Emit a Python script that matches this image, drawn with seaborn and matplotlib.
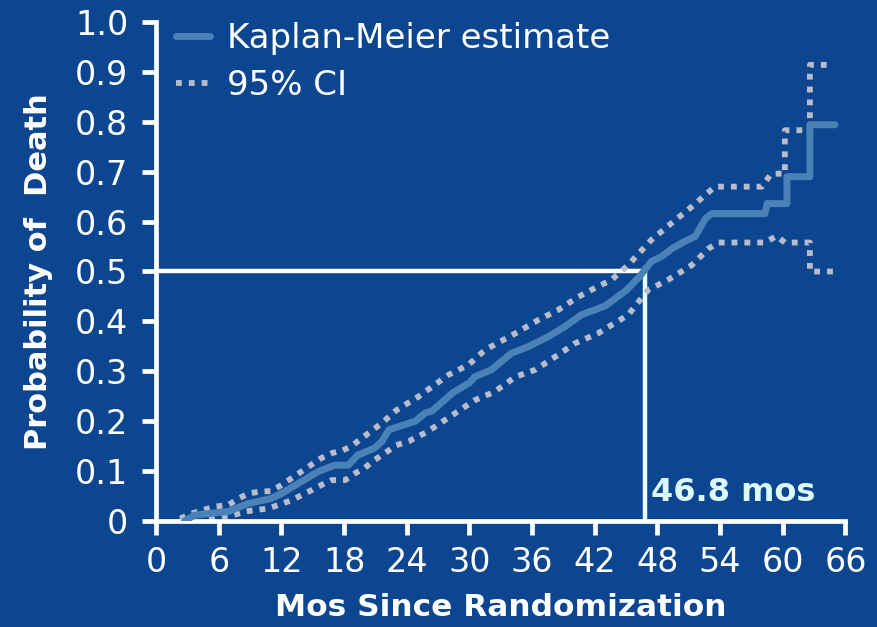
import numpy as np
import pandas as pd
import matplotlib
matplotlib.use("Agg")
import matplotlib.pyplot as plt
import seaborn as sns

# ---- data ----
km_months = [2.7, 3.7, 6.9, 8.8, 11.0, 12.0, 15.5, 17.1, 18.4, 19.3, 20.9, 21.6, 22.3,
             24.8, 25.8, 26.4, 28.4, 30.0, 30.5, 32.1, 34.0, 35.6, 37.5, 39.1, 40.7,
             43.0, 45.0, 46.3, 47.4, 48.4, 49.4, 50.6, 51.6, 52.6, 53.2, 58.3, 58.5,
             60.4, 60.4, 62.6, 62.6, 65.0]
km_prob = [0.0, 0.012, 0.019, 0.035, 0.045, 0.055, 0.099, 0.112, 0.112, 0.132, 0.146, 0.159, 0.183,
           0.200, 0.217, 0.220, 0.257, 0.277, 0.289, 0.303, 0.336, 0.349, 0.369, 0.389, 0.413,
           0.431, 0.462, 0.490, 0.520, 0.530, 0.546, 0.560, 0.570, 0.606, 0.616, 0.616, 0.636,
           0.636, 0.690, 0.690, 0.794, 0.794]

up_months = [2.3, 3.4, 5.6, 6.9, 7.9, 8.8, 9.9, 11.0, 12.0, 13.9, 15.8, 16.8, 17.8, 18.7,
             19.7, 21.6, 23.0, 25.1, 28.0, 29.9, 31.5, 34.4, 36.6, 38.5, 40.4, 42.3, 43.6,
             45.2, 47.4, 49.7, 51.3, 53.5, 58.0, 58.9, 60.2, 60.2, 62.6, 62.6, 64.7]
up_prob = [0.005, 0.015, 0.029, 0.032, 0.045, 0.055, 0.059, 0.060, 0.072, 0.099, 0.126, 0.136, 0.141, 0.150,
           0.166, 0.196, 0.222, 0.249, 0.293, 0.313, 0.343, 0.376, 0.403, 0.423, 0.449, 0.470, 0.483,
           0.513, 0.563, 0.603, 0.630, 0.670, 0.670, 0.696, 0.696, 0.783, 0.783, 0.914, 0.914]

lo_months = [5.1, 6.3, 7.4, 8.5, 9.5, 10.7, 11.7, 13.0, 14.9, 15.8, 16.8, 18.1, 19.0, 20.0,
             20.9, 21.9, 23.0, 24.2, 25.8, 26.7, 30.5, 32.4, 34.4, 36.3, 38.2, 40.1, 42.3,
             45.2, 47.1, 49.0, 51.3, 52.9, 53.8, 58.3, 59.4, 60.2, 62.6, 62.6, 65.0]
lo_prob = [0.002, 0.009, 0.012, 0.019, 0.022, 0.025, 0.032, 0.042, 0.062, 0.072, 0.082, 0.082, 0.095, 0.107,
           0.122, 0.136, 0.152, 0.160, 0.177, 0.189, 0.242, 0.259, 0.289, 0.303, 0.329, 0.356, 0.376,
           0.413, 0.463, 0.483, 0.513, 0.546, 0.558, 0.558, 0.571, 0.558, 0.558, 0.500, 0.500]

median_months = 46.8
median_prob = 0.5
x_ticks = list(range(0, 67, 6))
y_ticks = [0.0, 0.1, 0.2, 0.3, 0.4, 0.5, 0.6, 0.7, 0.8, 0.9, 1.0]
y_tick_labels = ["0", "0.1", "0.2", "0.3", "0.4", "0.5", "0.6", "0.7", "0.8", "0.9", "1.0"]
legend_labels = ["Kaplan-Meier estimate", "95% CI"]

# ---- style ----
BG = "#0d4690"
KM_COLOR = "#4a82b8"
CI_COLOR = "#b9bccb"
sns.set_theme(style="ticks")
plt.rcParams["font.family"] = ["DejaVu Sans"]

fig = plt.figure(figsize=(8.77, 6.27), dpi=100, facecolor=BG)
ax = fig.add_axes([0.178, 0.169, 0.786, 0.796])
ax.set_facecolor(BG)

km = pd.DataFrame({"Months": km_months, "Prob": km_prob})
up = pd.DataFrame({"Months": up_months, "Prob": up_prob})
lo = pd.DataFrame({"Months": lo_months, "Prob": lo_prob})

# reference lines for the median
ax.plot([0, median_months], [median_prob, median_prob], color="white", linewidth=3.2,
        solid_capstyle="butt", zorder=1)
ax.plot([median_months, median_months], [0, median_prob], color="#e8ffff", linewidth=3.2,
        solid_capstyle="butt", zorder=1)

sns.lineplot(data=km, x="Months", y="Prob", ax=ax, estimator=None, sort=False,
             color=KM_COLOR, linewidth=5.0, label=legend_labels[0], zorder=3)
sns.lineplot(data=up, x="Months", y="Prob", ax=ax, estimator=None, sort=False,
             color=CI_COLOR, linewidth=4.2, linestyle=(0, (1, 1.2)), dash_capstyle="butt",
             label=legend_labels[1], zorder=2)
sns.lineplot(data=lo, x="Months", y="Prob", ax=ax, estimator=None, sort=False,
             color=CI_COLOR, linewidth=4.2, linestyle=(0, (1, 1.2)), dash_capstyle="butt", zorder=2)

ax.set_xlim(0, 66)
ax.set_ylim(0, 1.0)
ax.set_xticks(x_ticks)
ax.set_xticklabels([str(t) for t in x_ticks])
ax.set_yticks(y_ticks)
ax.set_yticklabels(y_tick_labels)

for s in ["top", "right"]:
    ax.spines[s].set_visible(False)
for s in ["left", "bottom"]:
    ax.spines[s].set_color("white")
    ax.spines[s].set_linewidth(3.4)
    ax.spines[s].set_capstyle("projecting")
ax.tick_params(axis="both", colors="white", width=3.4, length=10, direction="out",
               labelsize=24, labelcolor="white")
ax.tick_params(axis="y", pad=10)
ax.tick_params(axis="x", pad=8)
ax.grid(False)

ax.set_xlabel("Mos Since Randomization", color="white", fontsize=22.5, fontweight="bold", labelpad=10)
ax.set_ylabel("Probability of  Death", color="white", fontsize=22, fontweight="bold", labelpad=16)

ax.text(median_months + 0.6, 0.058, "46.8 mos", color="#dcfafa", fontsize=23, fontweight="bold",
        ha="left", va="center")

leg = ax.legend(loc="upper left", bbox_to_anchor=(176 / 877, 1 - 22 / 627),
                bbox_transform=fig.transFigure, frameon=False, fontsize=24.5,
                handlelength=1.0, handletextpad=0.5, labelspacing=0.42,
                borderpad=0, borderaxespad=0, labelcolor="white")

fig.savefig("out.png", dpi=100, facecolor=BG)
